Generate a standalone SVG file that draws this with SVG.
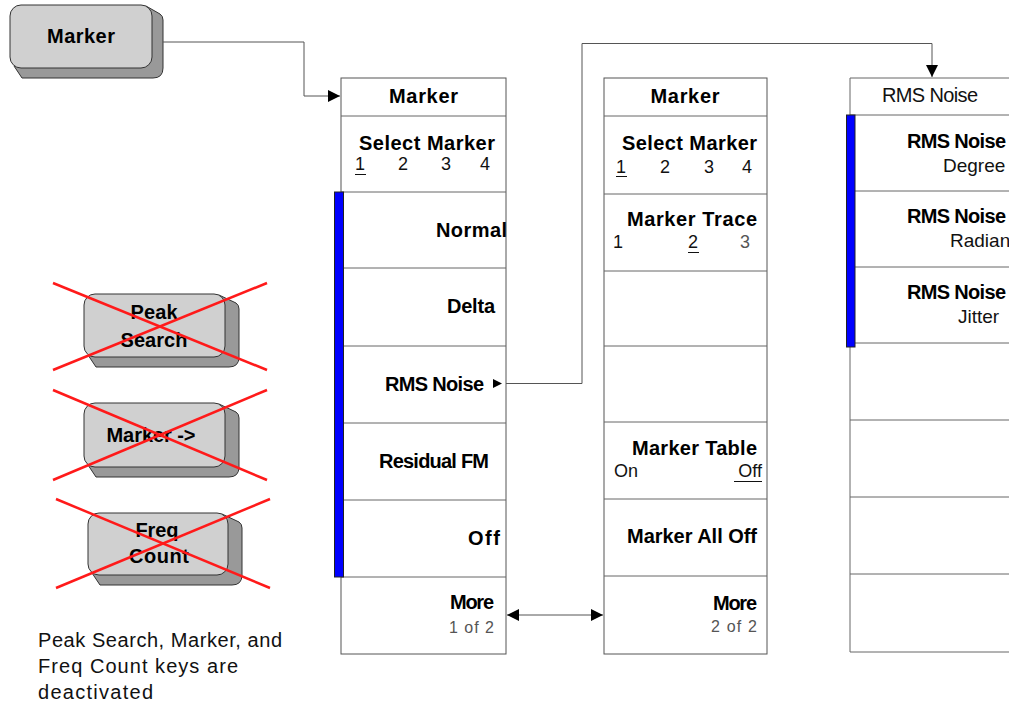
<svg xmlns="http://www.w3.org/2000/svg" width="1009" height="705" viewBox="0 0 1009 705">
<defs>
<style>
.box{fill:#fff;stroke:#555;stroke-width:1}
.div{stroke:#666;stroke-width:1;fill:none}
.bar{fill:#0000ff;stroke:#222;stroke-width:1}
.b{font-family:"Liberation Sans",Arial,sans-serif;font-weight:bold;font-size:20px;fill:#000}
.r{font-family:"Liberation Sans",Arial,sans-serif;font-size:18px;fill:#111}
.r19{font-family:"Liberation Sans",Arial,sans-serif;font-size:19px;fill:#111}
.r20{font-family:"Liberation Sans",Arial,sans-serif;font-size:20px;fill:#111}
.g{font-family:"Liberation Sans",Arial,sans-serif;font-size:16px;fill:#555}
.key{fill:#d0d0d0;stroke:#333;stroke-width:1}
.keysh{fill:#999;stroke:#333;stroke-width:1}
.kt{font-family:"Liberation Sans",Arial,sans-serif;font-size:20px;fill:#000;font-weight:bold;text-anchor:middle}
.x{stroke:#ff1a1a;stroke-width:2.5}
.conn{fill:none;stroke:#555;stroke-width:1}
.ul{stroke:#111;stroke-width:1}
</style>
<marker id="ah" viewBox="0 0 10 10" refX="10" refY="5" markerWidth="15" markerHeight="12" markerUnits="userSpaceOnUse" orient="auto-start-reverse"><path d="M0,0 L10,5 L0,10 Z" fill="#000"/></marker>
</defs>

<!-- Marker hard key -->
<g id="key-marker">
<path class="keysh" d="M146,6 L160,14 Q163,16 163,20 V68 Q163,78 153,78 H22 L14,66 Z"/>
<rect class="key" x="10" y="5" width="142" height="63" rx="11"/>
<text class="kt" x="81" y="43" textLength="68">Marker</text>
</g>

<!-- Deactivated keys -->
<g id="key-peak">
<path class="keysh" d="M219,295 L236,303 Q239,305 239,309 V357 Q239,367 229,367 H96 L88,355 Z"/>
<rect class="key" x="84" y="294" width="141" height="63" rx="11"/>
<text class="kt" x="154" y="319" textLength="47">Peak</text>
<text class="kt" x="154" y="347" textLength="67">Search</text>
<line class="x" x1="53" y1="283" x2="267" y2="370"/>
<line class="x" x1="53" y1="370" x2="267" y2="283"/>
</g>
<g id="key-markerto">
<path class="keysh" d="M219,404 L236,412 Q239,414 239,418 V467 Q239,477 229,477 H96 L88,465 Z"/>
<rect class="key" x="84" y="403" width="141" height="64" rx="11"/>
<text class="kt" x="151" y="442" textLength="89">Marker -&gt;</text>
<line class="x" x1="53" y1="390" x2="267" y2="480"/>
<line class="x" x1="53" y1="480" x2="267" y2="390"/>
</g>
<g id="key-freq">
<path class="keysh" d="M222,514 L239,522 Q242,524 242,528 V575 Q242,585 232,585 H100 L92,573 Z"/>
<rect class="key" x="88" y="513" width="140" height="62" rx="11"/>
<text class="kt" x="157" y="537" textLength="43">Freq</text>
<text class="kt" x="159" y="563" textLength="60">Count</text>
<line class="x" x1="56" y1="499" x2="270" y2="588"/>
<line class="x" x1="56" y1="588" x2="270" y2="499"/>
</g>

<g id="note">
<text class="r20" x="38" y="647" textLength="244">Peak Search, Marker, and</text>
<text class="r20" x="38" y="673" textLength="200">Freq Count keys are</text>
<text class="r20" x="38" y="699" textLength="115">deactivated</text>
</g>

<!-- Menu 1 -->
<g id="menu1">
<rect class="box" x="341" y="78" width="165" height="576"/>
<path class="div" d="M341,116H506M341,192H506M341,268H506M341,346H506M341,423H506M341,500H506M341,577H506"/>
<rect class="bar" x="334.5" y="192" width="9" height="385"/>
<text class="b" x="423.5" y="103" text-anchor="middle" textLength="69">Marker</text>
<text class="b" x="359" y="150" textLength="136">Select Marker</text>
<text class="r" x="355" y="170">1</text><line class="ul" x1="355" y1="174.5" x2="366" y2="174.5"/>
<text class="r" x="398" y="170">2</text>
<text class="r" x="441" y="170">3</text>
<text class="r" x="480" y="170">4</text>
<text class="b" x="507" y="237" text-anchor="end" textLength="71">Normal</text>
<text class="b" x="495" y="313" text-anchor="end" textLength="48">Delta</text>
<text class="b" x="484" y="391" text-anchor="end" textLength="99">RMS Noise</text>
<path d="M493,379 L502,383.5 L493,388 Z" fill="#000"/>
<text class="b" x="489" y="468" text-anchor="end" textLength="110">Residual FM</text>
<text class="b" x="500" y="545" text-anchor="end" textLength="32">Off</text>
<text class="b" x="494" y="609" text-anchor="end" textLength="44">More</text>
<text class="g" x="494" y="633" text-anchor="end" textLength="45">1 of 2</text>
</g>

<!-- Menu 2 -->
<g id="menu2">
<rect class="box" x="604" y="78" width="163" height="576"/>
<path class="div" d="M604,116H767M604,194H767M604,271H767M604,346H767M604,422H767M604,499H767M604,576H767"/>
<text class="b" x="685" y="103" text-anchor="middle" textLength="69">Marker</text>
<text class="b" x="622" y="150" textLength="135">Select Marker</text>
<text class="r" x="616" y="173">1</text><line class="ul" x1="616" y1="176.5" x2="627" y2="176.5"/>
<text class="r" x="660" y="173">2</text>
<text class="r" x="704" y="173">3</text>
<text class="r" x="742" y="173">4</text>
<text class="b" x="627" y="226" textLength="130">Marker Trace</text>
<text class="r" x="613" y="248">1</text>
<text class="r" x="688" y="248">2</text><line class="ul" x1="688" y1="252.5" x2="699" y2="252.5"/>
<text class="g" x="740" y="248" style="font-size:18px">3</text>
<text class="b" x="757" y="455" text-anchor="end" textLength="125">Marker Table</text>
<text class="r" x="614" y="477">On</text>
<text class="r" x="762" y="477" text-anchor="end">Off</text><line class="ul" x1="734" y1="481.5" x2="762" y2="481.5"/>
<text class="b" x="757" y="543" text-anchor="end" textLength="130">Marker All Off</text>
<text class="b" x="757" y="610" text-anchor="end" textLength="44">More</text>
<text class="g" x="757" y="632" text-anchor="end" textLength="46">2 of 2</text>
</g>

<!-- Menu 3 -->
<g id="menu3">
<path class="div" d="M1010,78H850V652H1010"/>
<path class="div" d="M850,115H1010M850,191H1010M850,267H1010M850,343H1010M850,420H1010M850,497H1010M850,574H1010"/>
<rect class="bar" x="846.5" y="115" width="8.5" height="232"/>
<text class="r20" x="882" y="102" textLength="96">RMS Noise</text>
<text class="b" x="907" y="148" textLength="99">RMS Noise</text>
<text class="r19" x="943" y="172">Degree</text>
<text class="b" x="907" y="223" textLength="99">RMS Noise</text>
<text class="r19" x="950" y="247">Radian</text>
<text class="b" x="907" y="299" textLength="99">RMS Noise</text>
<text class="r19" x="958" y="323">Jitter</text>
</g>

<!-- Connectors -->
<g id="connectors">
<path class="conn" d="M163,42H304V96H340" marker-end="url(#ah)"/>
<path class="conn" d="M506,383.5H582V43.5H932V77" marker-end="url(#ah)"/>
<path class="conn" d="M507,615H603" marker-start="url(#ah)" marker-end="url(#ah)"/>
</g>
</svg>
